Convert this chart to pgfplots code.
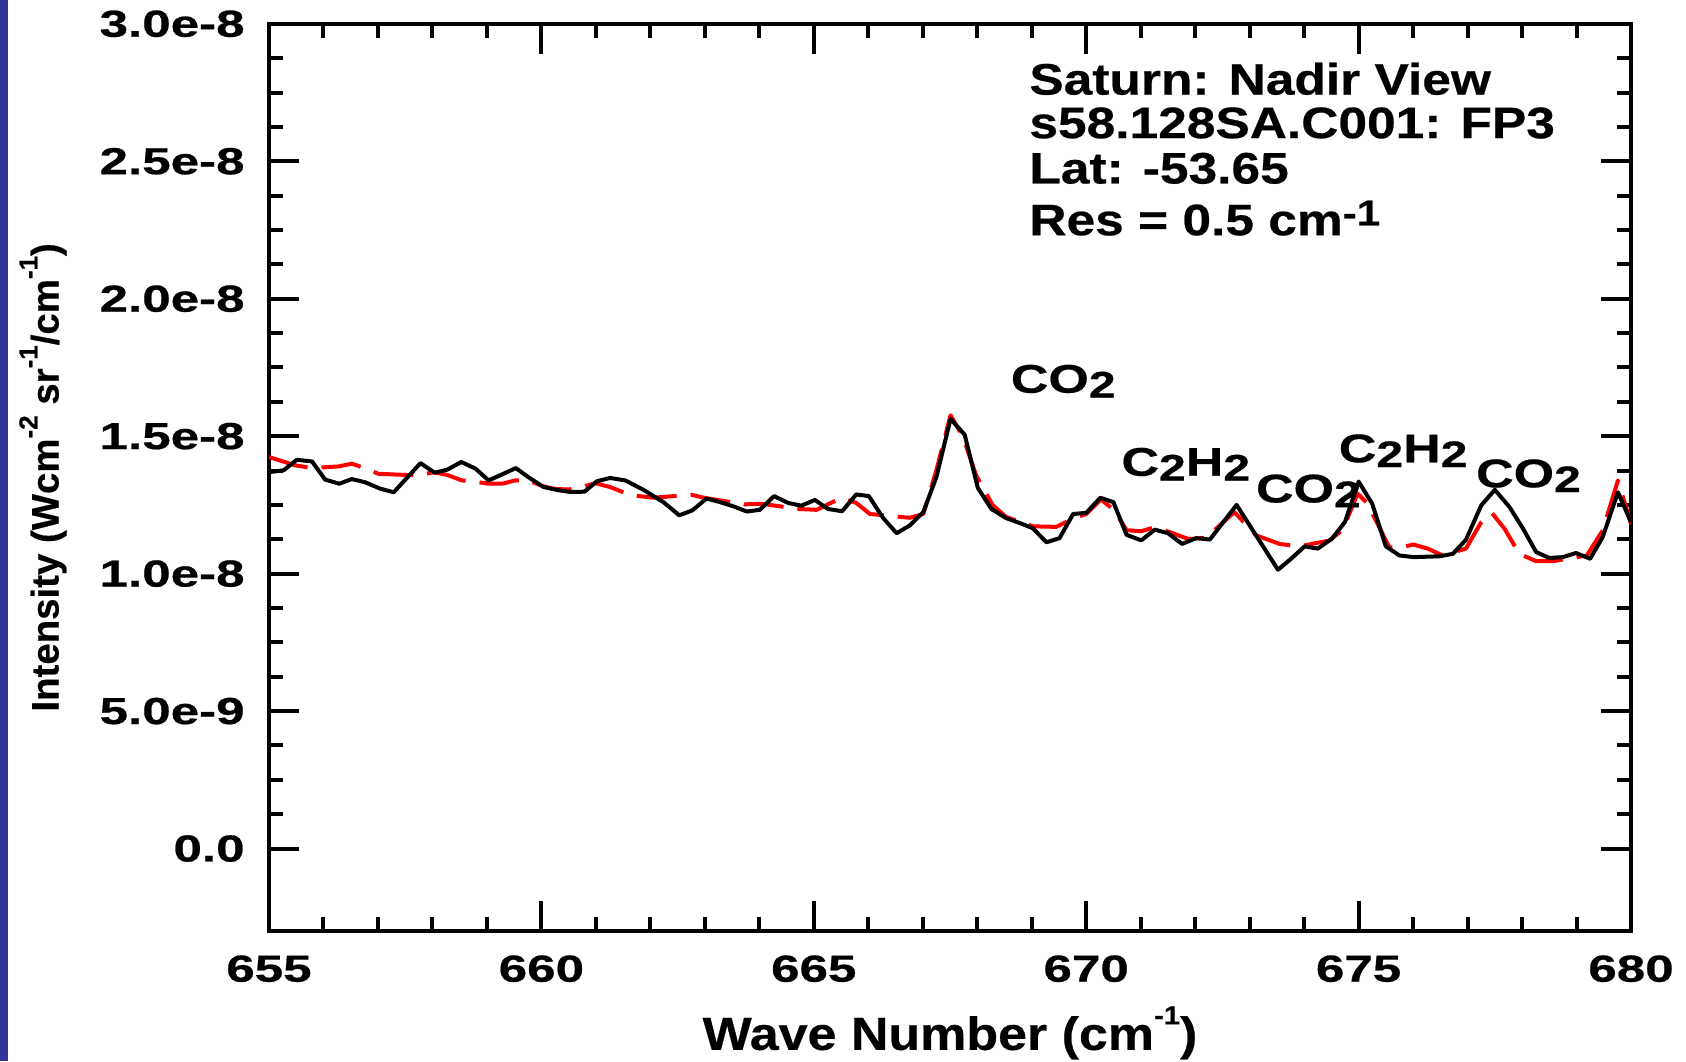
\documentclass[border=0pt]{standalone}
\usepackage{fontspec}
\setmainfont{Liberation Sans}
\newfontfamily\tickfont[FakeStretch=1.36,FakeBold=0.6]{Liberation Sans}
\newfontfamily\titlefont[FakeStretch=1.17,FakeBold=0.5]{Liberation Sans}
\newfontfamily\annfont[FakeStretch=1.3,FakeBold=0.5]{Liberation Sans}
\newfontfamily\xlabfont[FakeStretch=1.12,FakeBold=0.5]{Liberation Sans}
\newfontfamily\ylabfont[FakeStretch=1.0,FakeBold=0.5]{Liberation Sans}
\usepackage{pgfplots}
\pgfplotsset{compat=1.18}
\definecolor{barblue}{RGB}{51,51,153}
\newcommand\sub[1]{\raisebox{-0.12em}{\fontsize{18.5}{18.5}\selectfont #1}}
\newcommand\sups[1]{\raisebox{0.55em}{\fontsize{13}{13}\selectfont #1}}

\begin{document}
\begin{tikzpicture}
\useasboundingbox (0,0) rectangle (843pt,530.5pt);
\fill[barblue] (0,0) rectangle (4pt,530.5pt);
\begin{axis}[
  at={(134.5pt,65pt)}, anchor=south west,
  scale only axis, width=681pt, height=453.6pt,
  xmin=655, xmax=680, ymin=-0.3, ymax=3.0,
  xtick={655,660,665,670,675,680},
  xticklabels={655,660,665,670,675,680},
  minor x tick num=4,
  ytick={0,0.5,1.0,1.5,2.0,2.5,3.0},
  yticklabels={0.0,5.0e-9,1.0e-8,1.5e-8,2.0e-8,2.5e-8,3.0e-8},
  minor y tick num=3,
  tick align=inside,
  major tick length=15pt, minor tick length=7pt,
  axis line style={line width=2pt},
  every tick/.style={black, line width=2pt},
  xticklabel style={font=\tickfont\bfseries\fontsize{18.8}{20}\selectfont, inner sep=0pt, anchor=north, yshift=-12pt},
  yticklabel style={font=\tickfont\bfseries\fontsize{18.8}{20}\selectfont, inner sep=0pt, anchor=east, xshift=-12pt},
  xlabel={Wave Number (cm\sups{-1})},
  xlabel style={font=\xlabfont\bfseries\fontsize{23.2}{24}\selectfont, at={(axis description cs:0.5,-0.131)}, anchor=base, inner sep=0pt},
  ylabel={Intensity (Wcm\sups{-2} sr\sups{-1}/cm\sups{-1})},
  ylabel style={font=\ylabfont\bfseries\fontsize{19.2}{20}\selectfont, at={(axis description cs:-0.166,0.5)}, anchor=center, inner sep=0pt},
]
\addplot[red, line width=2pt, dash pattern=on 20pt off 7pt, line join=round] coordinates {
(655.00,1.424) (655.48,1.394) (655.79,1.384) (656.28,1.390) (656.52,1.400)
(656.74,1.385) (657.01,1.363) (657.75,1.357) (658.02,1.369) (658.27,1.359)
(658.54,1.339) (658.72,1.336) (659.03,1.327) (659.28,1.327) (659.52,1.339)
(659.76,1.339) (660.04,1.317) (660.25,1.308) (660.50,1.306) (660.74,1.315)
(660.99,1.329) (661.26,1.315) (661.54,1.293) (661.75,1.283) (662.05,1.276)
(662.75,1.287) (662.98,1.276) (663.73,1.252) (664.04,1.254) (664.74,1.235)
(665.05,1.232) (665.51,1.276) (665.78,1.257) (666.03,1.217) (666.76,1.203)
(667.01,1.217) (667.25,1.376) (667.51,1.576) (667.74,1.497) (667.98,1.357)
(668.28,1.250) (668.53,1.206) (669.02,1.172) (669.45,1.170) (669.76,1.200)
(670.00,1.217) (670.27,1.270) (670.52,1.230) (670.74,1.158) (671.00,1.154)
(671.25,1.168) (671.52,1.152) (671.87,1.126) (672.20,1.130) (672.72,1.224)
(673.12,1.139) (673.55,1.108) (673.92,1.099) (674.19,1.110) (674.46,1.120)
(674.71,1.160) (674.98,1.291) (675.14,1.260) (675.35,1.181) (675.56,1.096)
(675.78,1.095) (676.00,1.106) (676.27,1.091) (676.54,1.066) (676.97,1.091)
(677.25,1.187) (677.45,1.220) (677.68,1.163) (677.95,1.072) (678.26,1.045)
(678.56,1.045) (678.92,1.057) (679.19,1.066) (679.48,1.157) (679.76,1.339)
(680.00,1.181)
};
\addplot[black, line width=2pt, line join=round] coordinates {
(655.00,1.369) (655.27,1.376) (655.51,1.414) (655.79,1.408) (656.03,1.342)
(656.29,1.327) (656.52,1.344) (656.77,1.332) (657.04,1.309) (657.29,1.296)
(657.78,1.402) (658.04,1.367) (658.27,1.378) (658.53,1.406) (658.79,1.382)
(659.03,1.339) (659.28,1.361) (659.53,1.384) (659.76,1.351) (660.04,1.315)
(660.32,1.303) (660.53,1.297) (660.79,1.298) (661.02,1.336) (661.26,1.348)
(661.54,1.339) (661.88,1.304) (662.24,1.260) (662.53,1.212) (662.77,1.230)
(663.03,1.273) (663.28,1.260) (663.52,1.245) (663.77,1.226) (664.01,1.232)
(664.27,1.282) (664.53,1.257) (664.77,1.247) (665.02,1.268) (665.26,1.235)
(665.52,1.227) (665.78,1.288) (666.01,1.282) (666.27,1.203) (666.52,1.147)
(666.76,1.175) (667.01,1.224) (667.25,1.351) (667.51,1.563) (667.77,1.505)
(668.01,1.312) (668.26,1.235) (668.53,1.202) (668.78,1.184) (669.02,1.165)
(669.27,1.114) (669.51,1.129) (669.76,1.217) (670.00,1.221) (670.26,1.276)
(670.50,1.260) (670.74,1.141) (671.01,1.121) (671.26,1.160) (671.50,1.147)
(671.76,1.108) (672.02,1.129) (672.27,1.124) (672.76,1.250) (673.52,1.014)
(673.76,1.054) (674.01,1.099) (674.25,1.091) (674.51,1.127) (674.75,1.188)
(675.00,1.335) (675.25,1.254) (675.50,1.099) (675.75,1.066) (676.01,1.060)
(676.49,1.063) (676.73,1.072) (676.97,1.123) (677.25,1.248) (677.50,1.305)
(677.77,1.242) (678.02,1.163) (678.26,1.078) (678.50,1.057) (678.75,1.060)
(678.99,1.075) (679.25,1.054) (679.48,1.133) (679.76,1.296) (680.00,1.187)
};
\begin{scope}[every node/.style={anchor=base west, inner sep=0pt, font=\titlefont\bfseries\fontsize{22}{24}\selectfont}]
\node at (rel axis cs:0.558,0.922) {Saturn: Nadir View};
\node at (rel axis cs:0.558,0.874) {s58.128SA.C001: FP3};
\node at (rel axis cs:0.558,0.824) {Lat: -53.65};
\node at (rel axis cs:0.558,0.767) {Res = 0.5 cm\raisebox{0.22em}{\fontsize{18}{18}\selectfont -1}};
\end{scope}
\begin{scope}[every node/.style={anchor=base west, inner sep=0pt, font=\annfont\bfseries\fontsize{20}{22}\selectfont}]
\node at (axis cs:668.61,1.658) {CO\sub{2}};
\node at (axis cs:670.64,1.356) {C\sub{2}H\sub{2}};
\node at (axis cs:673.11,1.259) {CO\sub{2}};
\node at (axis cs:674.63,1.405) {C\sub{2}H\sub{2}};
\node at (axis cs:677.15,1.314) {CO\sub{2}};
\end{scope}
\end{axis}
\end{tikzpicture}
\end{document}
